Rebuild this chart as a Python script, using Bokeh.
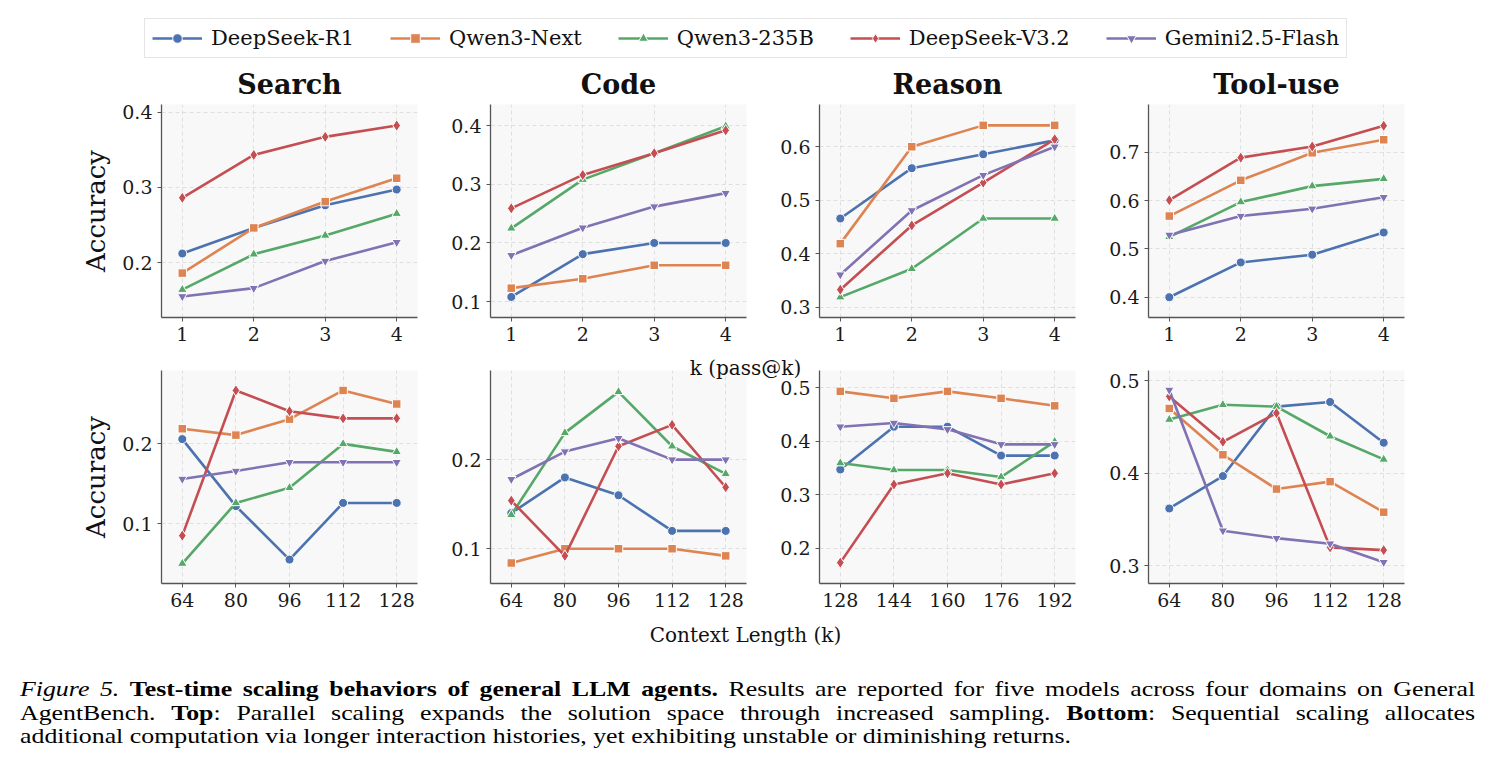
from bokeh.plotting import figure
from bokeh.models import Range1d, FixedTicker, PrintfTickFormatter, Legend, LegendItem, Label, Div
from bokeh.layouts import row, column
from bokeh.embed import file_html
from bokeh.resources import INLINE

# ---------------------------------------------------------------- data
models = ["DeepSeek-R1", "Qwen3-Next", "Qwen3-235B", "DeepSeek-V3.2", "Gemini2.5-Flash"]
domains = ["Search", "Code", "Reason", "Tool-use"]

k_values = [1, 2, 3, 4]
context_lengths = [64, 80, 96, 112, 128]
context_lengths_reason = [128, 144, 160, 176, 192]

# parallel scaling: accuracy at pass@k, one row per model (same order as `models`)
search_passk = [
    [0.212, 0.246, 0.276, 0.297],
    [0.186, 0.246, 0.281, 0.312],
    [0.164, 0.211, 0.236, 0.265],
    [0.286, 0.343, 0.367, 0.382],
    [0.155, 0.166, 0.202, 0.227],
]
code_passk = [
    [0.108, 0.181, 0.200, 0.200],
    [0.123, 0.139, 0.162, 0.162],
    [0.225, 0.308, 0.353, 0.399],
    [0.259, 0.316, 0.353, 0.392],
    [0.179, 0.226, 0.262, 0.285],
]
reason_passk = [
    [0.466, 0.560, 0.586, 0.612],
    [0.419, 0.600, 0.640, 0.640],
    [0.319, 0.372, 0.466, 0.466],
    [0.333, 0.453, 0.533, 0.614],
    [0.361, 0.481, 0.547, 0.600],
]
tool_passk = [
    [0.400, 0.472, 0.488, 0.534],
    [0.568, 0.642, 0.699, 0.726],
    [0.525, 0.597, 0.630, 0.645],
    [0.601, 0.689, 0.712, 0.755],
    [0.529, 0.568, 0.583, 0.607],
]

# sequential scaling: accuracy vs. context length
search_context = [
    [0.206, 0.122, 0.055, 0.126, 0.126],
    [0.219, 0.211, 0.231, 0.267, 0.250],
    [0.050, 0.126, 0.145, 0.200, 0.190],
    [0.085, 0.267, 0.241, 0.232, 0.232],
    [0.156, 0.166, 0.177, 0.177, 0.177],
]
code_context = [
    [0.140, 0.180, 0.160, 0.120, 0.120],
    [0.084, 0.100, 0.100, 0.100, 0.092],
    [0.138, 0.230, 0.276, 0.215, 0.184],
    [0.154, 0.092, 0.215, 0.239, 0.169],
    [0.178, 0.209, 0.224, 0.200, 0.200],
]
reason_context = [
    [0.347, 0.427, 0.427, 0.373, 0.373],
    [0.493, 0.480, 0.493, 0.480, 0.466],
    [0.359, 0.346, 0.346, 0.333, 0.399],
    [0.173, 0.319, 0.340, 0.319, 0.340],
    [0.427, 0.434, 0.422, 0.394, 0.394],
]
tool_context = [
    [0.362, 0.397, 0.472, 0.477, 0.433],
    [0.470, 0.420, 0.383, 0.391, 0.358],
    [0.458, 0.474, 0.472, 0.440, 0.415],
    [0.483, 0.434, 0.465, 0.320, 0.317],
    [0.490, 0.338, 0.330, 0.324, 0.304],
]

top_yticks = [[0.2, 0.3, 0.4], [0.1, 0.2, 0.3, 0.4], [0.3, 0.4, 0.5, 0.6], [0.4, 0.5, 0.6, 0.7]]
bottom_yticks = [[0.1, 0.2], [0.1, 0.2], [0.2, 0.3, 0.4, 0.5], [0.3, 0.4, 0.5]]

# ---------------------------------------------------------------- style
COLORS = ["#4C72B0", "#DD8452", "#55A868", "#C44E52", "#8172B3"]
MARKERS = ["circle", "square", "triangle", "diamond", "inverted_triangle"]
MSIZES = [9, 8.5, 9.5, 11.5, 9.5]
SERIF = "DejaVu Serif"
AXIS_GRAY = "#555555"

top_ylims = [(0.127, 0.41), (0.073, 0.436), (0.281, 0.679), (0.358, 0.799)]
bottom_ylims = [(0.025, 0.292), (0.061, 0.300), (0.134, 0.532), (0.281, 0.511)]


def make_panel(xs, series, yticks, ylim, col, top_row, title=None):
    pad = (xs[-1] - xs[0]) * 0.097
    p = figure(
        frame_width=256, frame_height=213,
        x_range=Range1d(xs[0] - pad, xs[-1] + pad),
        y_range=Range1d(*ylim),
        output_backend="svg", toolbar_location=None,
        min_border_left=161 if col == 0 else 67,
        min_border_right=6,
        min_border_top=42 if top_row else 15,
        min_border_bottom=38 if top_row else 72,
        background_fill_color="#f8f8f8",
        outline_line_color=None,
    )
    if title:
        p.title.text = title
        p.title.align = "center"
        p.title.text_font = SERIF
        p.title.text_font_style = "bold"
        p.title.text_font_size = "27px"
        p.title.text_color = "#111111"
        p.title.standoff = 9

    p.xaxis.ticker = FixedTicker(ticks=xs, minor_ticks=[])
    p.yaxis.ticker = FixedTicker(ticks=yticks, minor_ticks=[])
    p.yaxis.formatter = PrintfTickFormatter(format="%.1f")
    for ax in (p.xaxis, p.yaxis):
        ax.axis_line_color = AXIS_GRAY
        ax.axis_line_width = 1.3
        ax.major_tick_line_color = AXIS_GRAY
        ax.major_tick_out = 4
        ax.major_tick_in = 0
        ax.minor_tick_out = 0
        ax.major_label_text_font = SERIF
        ax.major_label_text_font_size = "19px"
        ax.major_label_text_color = "#1a1a1a"
        ax.major_label_standoff = 5
    if col == 0:
        p.yaxis.axis_label = "Accuracy"
        p.yaxis.axis_label_text_font = SERIF
        p.yaxis.axis_label_text_font_size = "26px"
        p.yaxis.axis_label_text_font_style = "normal"
        p.yaxis.axis_label_text_color = "#111111"
        p.yaxis.axis_label_standoff = 8

    for g in (p.xgrid, p.ygrid):
        g.grid_line_color = "#d8d8d8"
        g.grid_line_dash = "4 3"
        g.grid_line_width = 0.8

    for vals, c, mk, sz in zip(series, COLORS, MARKERS, MSIZES):
        p.line(xs, vals, line_color=c, line_width=2.6)
        p.scatter(xs, vals, marker=mk, size=sz, fill_color=c, line_color="white", line_width=1)
    return p


top_series = [search_passk, code_passk, reason_passk, tool_passk]
bottom_series = [search_context, code_context, reason_context, tool_context]
bottom_x = [context_lengths, context_lengths, context_lengths_reason, context_lengths]

top_panels = [
    make_panel(k_values, s, yt, yl, i, True, title=d)
    for i, (s, yt, yl, d) in enumerate(zip(top_series, top_yticks, top_ylims, domains))
]
bottom_panels = [
    make_panel(xs, s, yt, yl, i, False)
    for i, (xs, s, yt, yl) in enumerate(zip(bottom_x, bottom_series, bottom_yticks, bottom_ylims))
]

# ---------------------------------------------------------------- legend strip
# key-only renderers: their single point sits outside the strip's visible range
leg_fig = figure(
    frame_width=1491, frame_height=62, min_border=0,
    x_range=Range1d(0, 1), y_range=Range1d(0, 1),
    x_axis_type=None, y_axis_type=None,
    output_backend="svg", toolbar_location=None, outline_line_color=None,
)
items = []
for m, c, mk, sz in zip(models, COLORS, MARKERS, MSIZES):
    r_line = leg_fig.line([5, 6], [5, 6], line_color=c, line_width=2.6)
    r_mark = leg_fig.scatter([5], [5], marker=mk, size=sz, fill_color=c, line_color="white")
    items.append(LegendItem(label=m, renderers=[r_line, r_mark]))
legend = Legend(
    items=items, orientation="horizontal", location=(144, 4),
    label_text_font=SERIF, label_text_font_size="21px", label_text_color="#111111",
    glyph_width=50, glyph_height=24, label_standoff=9, spacing=36,
    padding=7, margin=0,
    border_line_color="#cccccc", border_line_width=1,
    background_fill_color="white", background_fill_alpha=1,
)
leg_fig.add_layout(legend, "center")

# ---------------------------------------------------------------- shared x-axis titles
xlab_fig = figure(
    frame_width=1491, frame_height=300, min_border=0,
    x_range=Range1d(0, 1491), y_range=Range1d(0, 300),
    x_axis_type=None, y_axis_type=None,
    output_backend="svg", toolbar_location=None, outline_line_color=None,
    background_fill_alpha=0, border_fill_alpha=0,
    margin=(-300, 0, 0, 0),
)
for txt, yy in (("k (pass@k)", 288), ("Context Length (k)", 21)):
    xlab_fig.add_layout(Label(
        x=745, y=yy, text=txt, text_align="center", text_baseline="middle",
        text_font=SERIF, text_font_size="20px", text_color="#111111",
    ))

# ---------------------------------------------------------------- caption
line_style = "text-align: justify; text-align-last: justify; white-space: nowrap;"
caption_html = (
    '<div style="font-family: \'Liberation Serif\', \'Times New Roman\', serif; font-size: 21px; '
    'line-height: 23.5px; color: #000; width: 1183px; margin-left: 20px; padding-top: 23px; '
    'transform: scaleX(1.23); transform-origin: 0 0;">'
    f'<div style="{line_style}"><i>Figure 5.</i> <b>Test-time scaling behaviors of general LLM agents.</b> '
    'Results are reported for five models across four domains on General</div>'
    f'<div style="{line_style}">AgentBench. <b>Top</b>: Parallel scaling expands the solution space through '
    'increased sampling. <b>Bottom</b>: Sequential scaling allocates</div>'
    '<div style="text-align: left; white-space: nowrap;">additional computation via longer interaction '
    'histories, yet exhibiting unstable or diminishing returns.</div>'
    '</div>'
)
caption = Div(text=caption_html, width=1491, height=110, margin=0)

layout = column(
    leg_fig,
    row(*top_panels),
    row(*bottom_panels),
    xlab_fig,
    caption,
)

with open("out.html", "w") as f:
    f.write(file_html(layout, INLINE, title="General AgentBench scaling"))
